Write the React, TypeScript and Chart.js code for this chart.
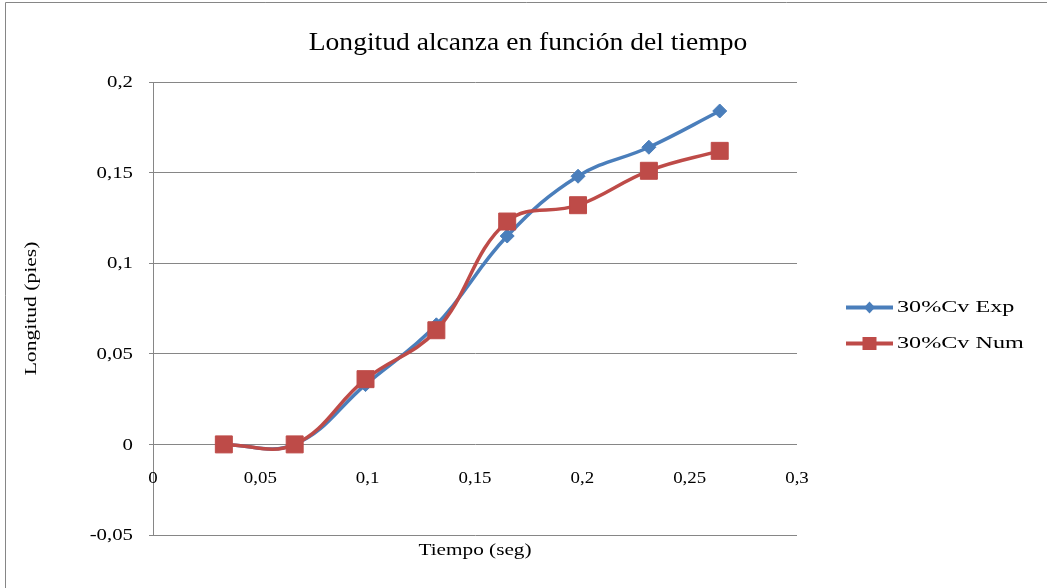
import { useEffect, useRef } from 'react';
import { Chart, registerables } from 'chart.js';

Chart.register(...registerables);

const chartTitle = 'Longitud alcanza en función del tiempo';
const xAxisTitle = 'Tiempo (seg)';
const yAxisTitle = 'Longitud (pies)';

const times = [0.033, 0.066, 0.099, 0.132, 0.165, 0.198, 0.231, 0.264];
const expLabel = '30%Cv Exp';
const expValues = [0, 0, 0.033, 0.066, 0.115, 0.148, 0.164, 0.184];
const numLabel = '30%Cv Num';
const numValues = [0, 0, 0.036, 0.063, 0.123, 0.132, 0.151, 0.162];

const xTickValues = [0, 0.05, 0.1, 0.15, 0.2, 0.25, 0.3];
const yTickValues = [-0.05, 0, 0.05, 0.1, 0.15, 0.2];

const BLUE = '#4A7EBB';
const RED = '#BE4B48';
const GRID = '#868686';
const FONT = '"Liberation Serif", "Times New Roman", serif';

const fmt = (v: number) => String(+v.toFixed(2)).replace('.', ',');

function drawText(
  ctx: CanvasRenderingContext2D,
  text: string,
  x: number,
  y: number,
  size: number,
  sx: number,
  align: 'left' | 'center' | 'right',
  baseline: CanvasTextBaseline = 'middle',
  rotate = 0
) {
  ctx.save();
  ctx.font = `${size}px ${FONT}`;
  ctx.fillStyle = '#000';
  ctx.textAlign = 'left';
  ctx.textBaseline = baseline;
  const w = ctx.measureText(text).width * sx;
  ctx.translate(x, y);
  if (rotate) ctx.rotate(rotate);
  const off = align === 'center' ? -w / 2 : align === 'right' ? -w : 0;
  ctx.translate(off, 0);
  ctx.scale(sx, 1);
  ctx.fillText(text, 0, 0);
  ctx.restore();
}

const textPlugin = {
  id: 'excelText',
  beforeDraw(chart: any) {
    const ctx: CanvasRenderingContext2D = chart.ctx;
    ctx.save();
    ctx.fillStyle = '#fff';
    ctx.fillRect(0, 0, chart.width, chart.height);
    ctx.strokeStyle = GRID;
    ctx.lineWidth = 1;
    ctx.beginPath();
    ctx.moveTo(5.5, chart.height);
    ctx.lineTo(5.5, 2.5);
    ctx.lineTo(chart.width, 2.5);
    ctx.stroke();
    ctx.restore();
  },
  afterDraw(chart: any) {
    const ctx: CanvasRenderingContext2D = chart.ctx;
    const area = chart.chartArea;
    const xs = chart.scales.x;
    const ys = chart.scales.y;
    const zeroY = ys.getPixelForValue(0);

    // title
    drawText(ctx, chartTitle, 528, 50, 26, 1.06, 'center', 'alphabetic');

    // y tick labels
    yTickValues.forEach((v) => {
      drawText(ctx, fmt(v), area.left - 20, ys.getPixelForValue(v) + 1, 16, 1.3, 'right');
    });
    // x tick labels (next to the axis at y = 0)
    xTickValues.forEach((v) => {
      drawText(ctx, fmt(v), xs.getPixelForValue(v), zeroY + 34, 16, 1.18, 'center');
    });

    // axis titles
    drawText(ctx, xAxisTitle, (area.left + area.right) / 2, area.bottom + 16, 17, 1.25, 'center');
    drawText(ctx, yAxisTitle, 32, (area.top + area.bottom) / 2, 17, 1.27, 'center', 'middle', -Math.PI / 2);

    // legend
    const mid = (area.top + area.bottom) / 2;
    const lx = area.right + 49;
    const items = [
      { label: expLabel, color: BLUE, y: mid - 1, shape: 'diamond' },
      { label: numLabel, color: RED, y: mid + 35, shape: 'square' },
    ];
    items.forEach((it) => {
      ctx.save();
      ctx.strokeStyle = it.color;
      ctx.fillStyle = it.color;
      ctx.lineWidth = 4;
      ctx.beginPath();
      ctx.moveTo(lx, it.y);
      ctx.lineTo(lx + 47, it.y);
      ctx.stroke();
      const cx = lx + 23.5;
      ctx.beginPath();
      if (it.shape === 'diamond') {
        ctx.moveTo(cx, it.y - 6);
        ctx.lineTo(cx + 5.5, it.y);
        ctx.lineTo(cx, it.y + 6);
        ctx.lineTo(cx - 5.5, it.y);
        ctx.closePath();
      } else {
        ctx.rect(cx - 7, it.y - 6.5, 14, 13);
      }
      ctx.fill();
      ctx.restore();
      drawText(ctx, it.label, lx + 51, it.y, 17, 1.42, 'left');
    });
  },
};

export default function App() {
  const ref = useRef<HTMLCanvasElement>(null);

  useEffect(() => {
    if (!ref.current) return;
    const chart = new Chart(ref.current, {
      type: 'line',
      data: {
        datasets: [
          {
            label: expLabel,
            data: times.map((t, i) => ({ x: t, y: expValues[i] })),
            borderColor: BLUE,
            backgroundColor: BLUE,
            borderWidth: 3.5,
            pointStyle: 'rectRot',
            pointRadius: 7,
            pointBorderWidth: 1,
            tension: 0.4,
            order: 1,
          },
          {
            label: numLabel,
            data: times.map((t, i) => ({ x: t, y: numValues[i] })),
            borderColor: RED,
            backgroundColor: RED,
            borderWidth: 3.5,
            pointStyle: 'rect',
            pointRadius: 12,
            pointBorderWidth: 1,
            tension: 0.4,
            order: 0,
          },
        ],
      },
      options: {
        animation: false,
        responsive: false,
        layout: { padding: { left: 153, top: 82, right: 250, bottom: 53 } },
        plugins: {
          legend: { display: false },
          title: { display: false },
          tooltip: { enabled: false },
        },
        scales: {
          x: {
            type: 'linear',
            min: 0,
            max: 0.3,
            display: false,
          },
          y: {
            type: 'linear',
            min: -0.05,
            max: 0.2,
            ticks: { display: false, stepSize: 0.05 },
            grid: { color: GRID, lineWidth: 1, tickLength: 4, drawTicks: true },
            border: { display: true, color: GRID, width: 1 },
            afterFit: (s: any) => {
              s.width = 0;
            },
          },
        },
      },
      plugins: [textPlugin],
    });
    return () => chart.destroy();
  }, []);

  return (
    <div style={{ position: 'fixed', left: 0, top: 0, width: 1047, height: 588, background: '#fff' }}>
      <canvas ref={ref} width={1047} height={588} style={{ display: 'block', width: 1047, height: 588 }} />
    </div>
  );
}
